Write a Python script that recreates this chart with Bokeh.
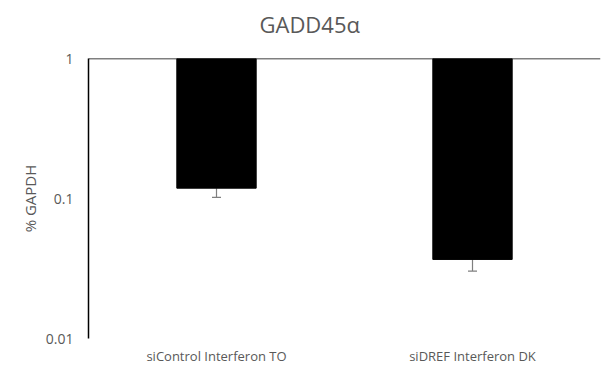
from bokeh.plotting import figure
from bokeh.models import (FactorRange, Range1d, FixedTicker, CustomJSTickFormatter,
                          Span, Whisker, ColumnDataSource, Title)
from bokeh.embed import file_html
from bokeh.resources import INLINE

categories = ["siControl Interferon TO", "siDREF Interferon DK"]
values = [0.1185, 0.0367]
err_low = [0.102, 0.0303]
y_ticks = [0.01, 0.1, 1]
title_text = "GADD45α"

FONT = "Open Sans"
GREY = "#595959"

src = ColumnDataSource(dict(cat=categories, val=values, low=err_low, top=[1.0] * len(values)))

p = figure(width=604, height=368, x_range=FactorRange(*categories),
           y_range=Range1d(0.01, 1), y_axis_type="log", title=None,
           output_backend="svg", toolbar_location=None,
           min_border_left=88, min_border_top=0, min_border_right=4, min_border_bottom=30)

# spacer between frame and title, then the title itself (farther from the frame)
p.add_layout(Title(text=" ", text_font_size="1px", standoff=11), "above")
p.add_layout(Title(text=title_text, align="left", offset=171, text_font=FONT,
                   text_font_size="22px", text_color=GREY, text_font_style="normal",
                   standoff=12), "above")

p.vbar(x="cat", top="top", bottom="val", width=0.31, source=src,
       fill_color="black", line_color="black")

w = Whisker(base="cat", lower="low", upper="val", source=src, upper_head=None,
            line_color="#7f7f7f", line_width=1.2)
w.lower_head.size = 9
w.lower_head.line_color = "#7f7f7f"
w.lower_head.line_width = 1.2
p.add_layout(w)

p.add_layout(Span(location=1, dimension="width", line_color="black", line_width=1.5))

p.grid.visible = False
p.outline_line_color = None

p.yaxis.ticker = FixedTicker(ticks=y_ticks, minor_ticks=[])
p.yaxis.formatter = CustomJSTickFormatter(code="return tick.toString();")
p.yaxis.major_tick_line_color = None
p.yaxis.minor_tick_line_color = None
p.yaxis.major_tick_out = 0
p.yaxis.major_tick_in = 0
p.yaxis.minor_tick_out = 0
p.yaxis.axis_line_color = "black"
p.yaxis.axis_line_width = 1.5
p.yaxis.major_label_standoff = 15
p.yaxis.major_label_text_font = FONT
p.yaxis.major_label_text_font_size = "14px"
p.yaxis.major_label_text_color = GREY
p.yaxis.axis_label = "% GAPDH"
p.yaxis.axis_label_text_font = FONT
p.yaxis.axis_label_text_font_size = "15px"
p.yaxis.axis_label_text_font_style = "normal"
p.yaxis.axis_label_text_color = GREY
p.yaxis.axis_label_standoff = 3

p.xaxis.axis_line_color = None
p.xaxis.major_tick_line_color = None
p.xaxis.minor_tick_line_color = None
p.xaxis.major_tick_out = 0
p.xaxis.major_tick_in = 0
p.xaxis.minor_tick_out = 0
p.xaxis.major_label_standoff = 8
p.xaxis.major_label_text_font = FONT
p.xaxis.major_label_text_font_size = "13px"
p.xaxis.major_label_text_color = GREY

p.background_fill_color = "white"
p.border_fill_color = "white"

open("out.html", "w").write(file_html(p, INLINE))
